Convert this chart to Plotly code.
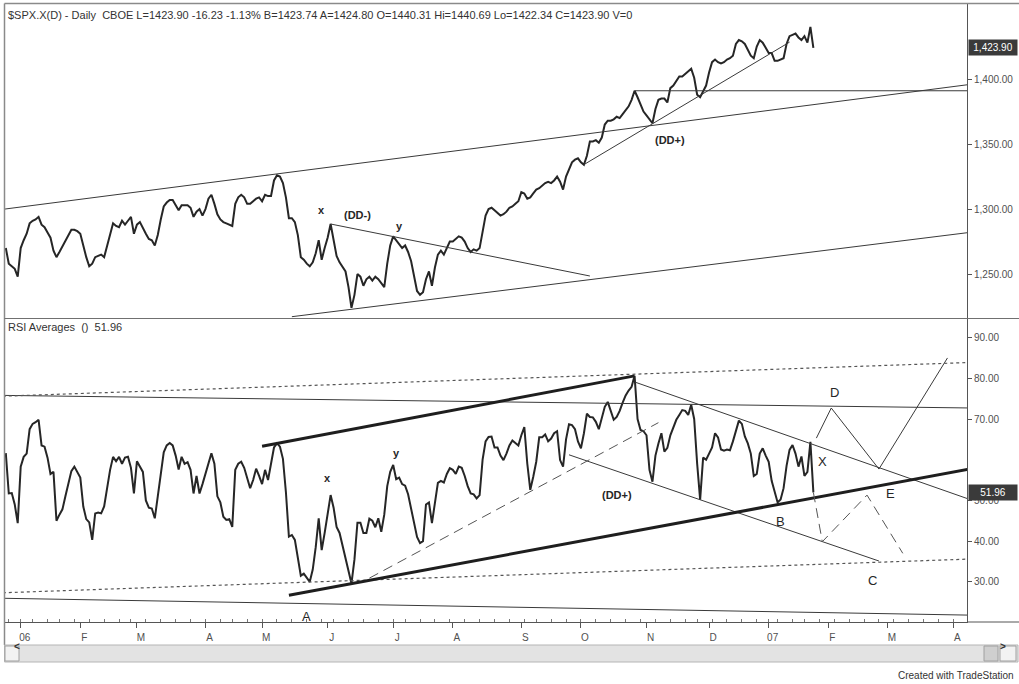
import pandas as pd
import plotly.graph_objects as go

# ---------------------------------------------------------------------------
# Trading calendar (daily bars; exchange holidays removed, future bars are
# plain weekdays)
# ---------------------------------------------------------------------------
MARKET_HOLIDAYS = [
    "2005-12-26", "2006-01-02", "2006-01-16", "2006-02-20", "2006-04-14",
    "2006-05-29", "2006-07-04", "2006-09-04", "2006-11-23", "2006-12-25",
    "2007-01-01", "2007-01-02", "2007-01-15",
]
calendar = [d for d in pd.bdate_range("2005-12-19", "2007-04-30")
            if d.strftime("%Y-%m-%d") not in MARKET_HOLIDAYS]
BAR = {d.strftime("%Y-%m-%d"): n for n, d in enumerate(calendar)}

FIRST_SESSION = "2005-12-23"
LAST_SESSION = "2007-01-25"
sessions = [d.strftime("%Y-%m-%d")
            for d in calendar[BAR[FIRST_SESSION]:BAR[LAST_SESSION] + 1]]

# ---------------------------------------------------------------------------
# $SPX.X daily close
# ---------------------------------------------------------------------------
spx_close = [
    1270, 1258, 1256, 1254, 1248, 1270, 1276, 1281, 1289, 1291,
    1292, 1294, 1288, 1286, 1282, 1278, 1268, 1263, 1267, 1271,
    1275, 1280, 1284, 1284, 1283, 1281, 1271, 1263, 1256, 1258,
    1263, 1264, 1265, 1263, 1272, 1282, 1289, 1287, 1286, 1291,
    1288, 1291, 1294, 1281, 1288, 1290, 1285, 1281, 1277, 1276,
    1272, 1280, 1292, 1302, 1305, 1307, 1307, 1303, 1299, 1303,
    1303, 1303, 1301, 1294, 1298, 1300, 1295, 1300, 1308, 1311,
    1304, 1296, 1292, 1290, 1289, 1288, 1287, 1304, 1309, 1311,
    1309, 1304, 1304, 1306, 1308, 1309, 1306, 1311, 1310, 1310,
    1322, 1326, 1325, 1320, 1309, 1293, 1293, 1290, 1280, 1263,
    1261, 1258, 1256, 1259, 1266, 1276, 1261, 1270, 1278, 1288.5,
    1276, 1264, 1259, 1255, 1252, 1240, 1224, 1234, 1250, 1248,
    1241, 1246, 1248, 1245, 1248, 1246, 1243, 1240, 1258, 1272,
    1279, 1276, 1273, 1270, 1272, 1267, 1260, 1247, 1237, 1234,
    1236, 1246, 1252, 1241, 1255, 1265, 1268, 1265, 1270, 1275,
    1275, 1277, 1279, 1278, 1275, 1270, 1267, 1269, 1268, 1270,
    1283, 1295, 1300, 1301, 1299, 1297, 1295, 1296, 1298, 1301,
    1302, 1304, 1306, 1313, 1312, 1308, 1309, 1312, 1315, 1316,
    1318, 1320, 1321, 1320, 1322, 1325, 1321, 1315, 1325, 1331,
    1336, 1338, 1339, 1336, 1334, 1341, 1352, 1352, 1353, 1351,
    1355, 1365, 1368, 1368, 1369, 1371, 1370, 1373, 1376, 1379,
    1384, 1391, 1386, 1381, 1375, 1372, 1369, 1366, 1377, 1384,
    1385, 1385, 1382, 1393, 1395, 1399, 1402, 1402, 1404, 1406,
    1408, 1401, 1388, 1386, 1390, 1395, 1405, 1413, 1415, 1413,
    1412, 1413, 1415, 1416, 1418, 1427, 1430, 1429, 1427, 1422,
    1418, 1416, 1425, 1430, 1428, 1424, 1420, 1420, 1414, 1414,
    1415, 1416, 1427, 1433, 1434, 1435, 1432, 1430, 1433, 1428,
    1440.1, 1423.90,
]

# RSI Averages study
rsi_avg = [
    61.6, 51.7, 51.8, 49.0, 44.4, 58.3, 60.7, 61.5, 67.5, 68.8,
    69.2, 69.8, 63.5, 63.2, 60.5, 56.5, 57.0, 45.0, 46.5, 47.8,
    51.0, 54.5, 57.2, 58.3, 57.0, 55.6, 48.5, 45.4, 44.6, 40.3,
    46.8, 47.0, 46.8, 48.5, 53.0, 57.5, 60.7, 59.6, 60.7, 59.0,
    60.5, 60.7, 58.0, 51.7, 59.6, 58.2, 57.0, 50.0, 48.2, 48.0,
    45.6, 51.0, 57.0, 61.8, 63.5, 64.1, 63.5, 61.0, 57.6, 60.7,
    59.0, 59.4, 57.5, 51.7, 56.0, 51.7, 54.0, 56.5, 59.0, 61.6,
    59.0, 51.0, 49.5, 46.0, 45.2, 45.4, 43.5, 57.5, 59.0, 59.5,
    58.0, 55.5, 53.0, 55.0, 57.8, 56.0, 54.0, 57.5, 55.0, 59.0,
    63.0, 64.0, 63.2, 60.2, 52.0, 41.1, 41.5, 40.3, 36.0, 31.5,
    32.0, 31.0, 30.0, 33.0, 38.5, 45.6, 37.8, 42.0, 47.0, 51.3,
    48.2, 43.5, 42.0, 39.0, 35.5, 32.5, 29.6, 35.5, 44.5, 44.5,
    42.0, 42.0, 45.5, 45.0, 43.4, 45.6, 42.3, 46.5, 53.5, 57.0,
    58.7, 55.2, 55.6, 54.0, 53.6, 51.5, 48.0, 44.0, 41.0, 39.5,
    40.0, 49.0, 49.5, 44.4, 49.5, 54.3, 54.8, 54.4, 56.5, 57.9,
    57.5, 56.5, 58.3, 58.0, 56.0, 53.5, 51.7, 51.5, 50.5, 51.3,
    60.0, 64.5, 65.6, 65.7, 63.0, 63.0, 61.0, 59.9, 61.5, 63.5,
    64.7, 64.2, 63.5, 66.0, 68.0, 59.0, 52.6, 55.8, 59.5, 65.5,
    65.5, 66.2, 64.5, 65.2, 66.5, 67.0, 59.9, 58.3, 65.0, 68.7,
    68.5, 67.5, 64.5, 62.8, 66.5, 71.3, 70.5, 70.4, 69.3, 67.5,
    70.0, 73.0, 74.2, 72.0, 69.8, 70.5, 72.0, 74.0, 75.8, 77.0,
    77.9, 80.6, 70.0, 67.3, 67.0, 66.0, 57.5, 54.6, 61.0, 64.0,
    66.5, 62.0, 62.9, 66.0, 68.0, 69.8, 71.0, 72.2, 72.0, 71.0,
    73.5, 70.0, 59.0, 50.2, 60.5, 60.0, 61.5, 63.0, 66.5, 65.5,
    62.5, 62.2, 62.5, 62.3, 64.5, 67.0, 69.6, 68.8, 65.7, 64.0,
    61.5, 56.0, 56.5, 61.5, 62.8, 61.0, 59.5, 54.8, 52.0, 49.5,
    50.2, 53.0, 58.5, 62.4, 63.6, 61.5, 58.3, 60.8, 56.0, 57.0,
    64.4, 51.96,
]
assert len(spx_close) == len(sessions) == len(rsi_avg)

# ---------------------------------------------------------------------------
# Hand-drawn analysis lines: (session, value) anchor points
# ---------------------------------------------------------------------------
PRICE_THIN_LINES = [
    [("2005-12-22", 1299.8), ("2007-04-10", 1396.0)],   # upper channel
    [("2006-05-15", 1217.2), ("2007-04-10", 1282.2)],   # lower channel
    [("2006-06-02", 1288.5), ("2006-10-05", 1248.5)],   # (DD-) trend
    [("2006-10-03", 1334.2), ("2007-01-12", 1428.4)],   # (DD+) trend
    [("2006-10-26", 1391.0), ("2007-04-10", 1391.0)],   # breakout level
]

RSI_THIN_LINES = [
    [("2005-12-22", 75.8), ("2007-04-10", 72.7)],
    [("2005-12-22", 25.95), ("2007-04-10", 21.8)],
    [("2006-10-26", 79.1), ("2007-04-10", 50.1)],
    [("2006-09-26", 61.2), ("2007-02-26", 35.1)],
    [("2007-01-26", 65.3), ("2007-02-02", 72.7), ("2007-02-26", 57.7),
     ("2007-03-29", 85.0)],
]
RSI_DOTTED_LINES = [
    [("2005-12-22", 75.6), ("2007-04-10", 83.9)],
    [("2005-12-22", 27.3), ("2007-04-10", 35.6)],
]
RSI_BOLD_LINES = [
    [("2006-05-01", 63.3), ("2006-10-26", 80.6)],
    [("2006-05-12", 26.7), ("2007-04-10", 57.8)],
]
RSI_DASHED_LINES = [
    [("2006-06-21", 30.9), ("2006-11-07", 69.1)],
    [("2007-01-25", 51.96), ("2007-01-30", 39.85), ("2007-02-20", 51.3),
     ("2007-03-08", 37.0)],
]

PRICE_NOTES = [("2006-05-30", 1299.2, "x"), ("2006-06-15", 1295.4, "(DD-)"),
               ("2006-07-06", 1286.9, "y"), ("2006-11-13", 1353.0, "(DD+)")]
RSI_SMALL_NOTES = [("2006-06-01", 55.5, "x"), ("2006-07-05", 61.6, "y"),
                   ("2006-10-18", 51.3, "(DD+)")]
RSI_WAVE_NOTES = [("2007-02-05", 76.5, "D"), ("2007-01-30", 59.5, "X"),
                  ("2007-03-02", 51.7, "E"), ("2007-01-09", 44.8, "B"),
                  ("2007-02-22", 30.4, "C"), ("2006-05-22", 21.4, "A")]

HEADER = ("$SPX.X(D) - Daily  CBOE L=1423.90 -16.23 -1.13% B=1423.74 "
          "A=1424.80 O=1440.31 Hi=1440.69 Lo=1422.34 C=1423.90 V=0")
STUDY_HEADER = "RSI Averages  ()  51.96"
MONTH_LABELS = ["06", "F", "M", "A", "M", "J", "J", "A", "S", "O", "N", "D",
                "07", "F", "M", "A"]
PRICE_TICKS = [1250, 1300, 1350, 1400]
RSI_TICKS = [30, 40, 50, 70, 80, 90]

# ---------------------------------------------------------------------------
FONT = "Arial, 'Liberation Sans', sans-serif"
INK = "#262626"

x_bars = [BAR[s] for s in sessions]

month_keys = [f"{d.year}-{d.month:02d}" for d in calendar]
month_pos = []
for n, key in enumerate(month_keys):
    if (n == 0 or key != month_keys[n - 1]) and "2006-01" <= key <= "2007-04":
        month_pos.append(n)
month_pos = month_pos[:len(MONTH_LABELS)]
week_keys = [tuple(d.isocalendar())[:2] for d in calendar]
week_pos = [n for n in range(1, len(calendar)) if week_keys[n] != week_keys[n - 1]]

origin = BAR["2006-01-03"]
x_range = [origin - 5.27, origin + 317.55]

fig = go.Figure()

fig.add_trace(go.Scatter(x=x_bars, y=spx_close, mode="lines",
                         line=dict(color=INK, width=2), xaxis="x", yaxis="y"))
fig.add_trace(go.Scatter(x=x_bars, y=rsi_avg, mode="lines",
                         line=dict(color=INK, width=2), xaxis="x", yaxis="y2"))


def add_segments(lines, axis, **line_style):
    for pts in lines:
        fig.add_trace(go.Scatter(
            x=[BAR[d] for d, _ in pts], y=[v for _, v in pts], mode="lines",
            line=line_style, xaxis="x", yaxis=axis))


add_segments(PRICE_THIN_LINES, "y", color="#3a3a3a", width=1)
add_segments(RSI_THIN_LINES, "y2", color="#3a3a3a", width=1)
add_segments(RSI_DOTTED_LINES, "y2", color="#555555", width=1.2, dash="dot")
add_segments(RSI_BOLD_LINES, "y2", color="#1e1e1e", width=3)
add_segments(RSI_DASHED_LINES, "y2", color="#555555", width=1, dash="10px,6px")

annotations = []
for d, v, t in PRICE_NOTES:
    annotations.append(dict(x=BAR[d], y=v, xref="x", yref="y", text=f"<b>{t}</b>",
                            showarrow=False, font=dict(family=FONT, size=11, color=INK)))
for d, v, t in RSI_SMALL_NOTES:
    annotations.append(dict(x=BAR[d], y=v, xref="x", yref="y2", text=f"<b>{t}</b>",
                            showarrow=False, font=dict(family=FONT, size=11, color=INK)))
for d, v, t in RSI_WAVE_NOTES:
    annotations.append(dict(x=BAR[d], y=v, xref="x", yref="y2", text=t,
                            showarrow=False, font=dict(family=FONT, size=13, color=INK)))

# panel headers
annotations.append(dict(x=0.001, y=(622 - 15) / 619, xref="paper", yref="paper",
                        text=HEADER, showarrow=False, xanchor="left", yanchor="middle",
                        font=dict(family=FONT, size=11, color="#333333")))
annotations.append(dict(x=0.001, y=(622 - 327) / 619, xref="paper", yref="paper",
                        text=STUDY_HEADER, showarrow=False, xanchor="left", yanchor="middle",
                        font=dict(family=FONT, size=11, color="#333333")))

# last-value boxes on the price scales
annotations.append(dict(x=1.001, y=spx_close[-1], xref="paper", yref="y",
                        text=f"{spx_close[-1]:,.2f}", showarrow=False, xanchor="left",
                        width=44, align="center", bgcolor="#3a3a3a", borderpad=2,
                        font=dict(family=FONT, size=10, color="#ffffff")))
annotations.append(dict(x=1.001, y=rsi_avg[-1], xref="paper", yref="y2",
                        text=f"{rsi_avg[-1]:.2f}", showarrow=False, xanchor="left",
                        width=44, align="center", bgcolor="#3a3a3a", borderpad=2,
                        font=dict(family=FONT, size=10, color="#ffffff")))

# scroll bar and footer
annotations.append(dict(x=(11.5 - 5) / 962, y=(622 - 653.5) / 619, xref="paper", yref="paper",
                        text="<b>&lt;</b>", showarrow=False,
                        font=dict(family=FONT, size=10, color="#333333")))
annotations.append(dict(x=(1008 - 5) / 962, y=(622 - 653.5) / 619, xref="paper", yref="paper",
                        text="<b>&gt;</b>", showarrow=False,
                        font=dict(family=FONT, size=10, color="#333333")))
annotations.append(dict(x=(1016 - 5) / 962, y=(622 - 675) / 619, xref="paper", yref="paper",
                        text="Created with TradeStation", showarrow=False, xanchor="right",
                        yanchor="middle", font=dict(family=FONT, size=10, color="#333333")))


def px_x(px):
    return (px - 5) / 962


def px_y(py):
    return (622 - py) / 619


shapes = [
    # outer frame and panel separator
    dict(type="line", xref="paper", yref="paper", x0=px_x(4.5), x1=px_x(1019),
         y0=px_y(3.5), y1=px_y(3.5), line=dict(color="#8a8a8a", width=1.5)),
    dict(type="line", xref="paper", yref="paper", x0=px_x(4.5), x1=px_x(4.5),
         y0=px_y(3.5), y1=px_y(645), line=dict(color="#8a8a8a", width=1.5)),
    dict(type="line", xref="paper", yref="paper", x0=px_x(4.5), x1=px_x(1019),
         y0=px_y(318.5), y1=px_y(318.5), line=dict(color="#707070", width=1.2)),
    dict(type="line", xref="paper", yref="paper", x0=1, x1=px_x(1019),
         y0=0, y1=0, line=dict(color="#555555", width=1)),
    # scroll bar
    dict(type="rect", xref="paper", yref="paper", x0=px_x(4.5), x1=px_x(1018),
         y0=px_y(662), y1=px_y(645), fillcolor="#e3e3e3",
         line=dict(color="#b5b5b5", width=1)),
    dict(type="rect", xref="paper", yref="paper", x0=px_x(5), x1=px_x(19),
         y0=px_y(661), y1=px_y(646), fillcolor="#f2f2f2",
         line=dict(color="#a0a0a0", width=1)),
    dict(type="rect", xref="paper", yref="paper", x0=px_x(984), x1=px_x(998),
         y0=px_y(661), y1=px_y(646), fillcolor="#cfcfcf",
         line=dict(color="#a0a0a0", width=1)),
    dict(type="rect", xref="paper", yref="paper", x0=px_x(1000), x1=px_x(1016),
         y0=px_y(661), y1=px_y(646), fillcolor="#f2f2f2",
         line=dict(color="#a0a0a0", width=1)),
]

axis_font = dict(family=FONT, size=10, color="#505050")

fig.update_layout(
    width=1019, height=684,
    margin=dict(l=5, r=52, t=3, b=62),
    paper_bgcolor="#ffffff", plot_bgcolor="#ffffff",
    showlegend=False, hovermode=False,
    xaxis=dict(
        range=x_range, anchor="y2", showgrid=False, zeroline=False,
        showline=True, linecolor="#555555", linewidth=1,
        tickmode="array", tickvals=month_pos, ticktext=MONTH_LABELS,
        ticks="outside", ticklen=5, tickcolor="#555555", tickwidth=1,
        ticklabelshift=4, ticklabelstandoff=1, tickfont=axis_font,
        minor=dict(tickmode="array", tickvals=week_pos, ticks="inside",
                   ticklen=3, tickcolor="#777777", showgrid=False),
    ),
    yaxis=dict(
        domain=[(622 - 318) / 619, 1], range=[1216.2, 1458.5], side="right",
        anchor="x", showgrid=False, zeroline=False, showline=True,
        linecolor="#555555", linewidth=1, tickmode="array", tickvals=PRICE_TICKS,
        tickformat=",.2f", ticks="outside", ticklen=4, tickcolor="#555555",
        tickfont=axis_font,
    ),
    yaxis2=dict(
        domain=[0, (622 - 319) / 619], range=[20.12, 94.57], side="right",
        anchor="x", showgrid=False, zeroline=False, showline=True,
        linecolor="#555555", linewidth=1, tickmode="array", tickvals=RSI_TICKS,
        tickformat=".2f", ticks="outside", ticklen=4, tickcolor="#555555",
        tickfont=axis_font,
    ),
    annotations=annotations,
    shapes=shapes,
)

fig.write_html("out.html")
